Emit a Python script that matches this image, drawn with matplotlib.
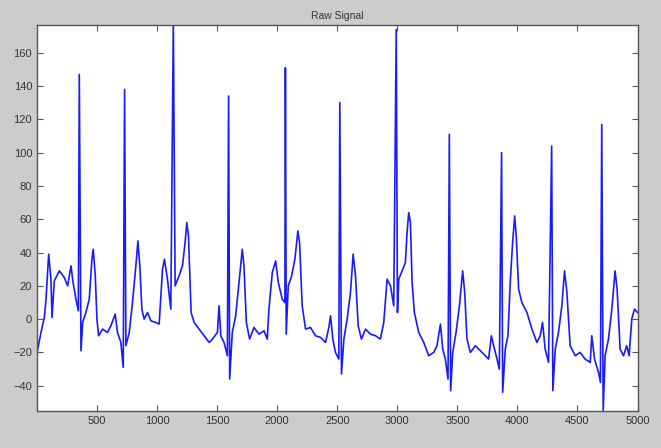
import matplotlib
matplotlib.use("Agg")
import matplotlib.pyplot as plt
import numpy as np

# Baseline (non-spike) samples: sample index, value
base_x = [1, 6, 33, 61, 75, 97, 116, 125, 144, 186, 227, 255, 283, 300, 324, 344,
          366, 380, 407, 435, 457, 468, 485, 499, 513, 546, 587, 615, 651, 670, 698, 718,
          740, 768, 795, 823, 840, 856, 873, 892, 920, 948, 989, 1017, 1045, 1061, 1086, 1114,
          1150, 1183, 1211, 1233, 1247, 1261, 1272, 1283, 1308, 1350, 1391, 1433, 1460, 1502,
          1516, 1530, 1557, 1585, 1604, 1626, 1654, 1682, 1709, 1723, 1743, 1770, 1806, 1848,
          1890, 1917, 1931, 1959, 1987, 2009, 2042, 2064, 2075, 2092, 2120, 2147, 2172, 2186,
          2208, 2236, 2277, 2319, 2361, 2402, 2430, 2444, 2463, 2485, 2513, 2535, 2555, 2582,
          2610, 2632, 2652, 2674, 2701, 2735, 2776, 2818, 2859, 2887, 2915, 2943, 2970, 3001,
          3012, 3040, 3067, 3081, 3095, 3109, 3123, 3142, 3178, 3220, 3261, 3303, 3330, 3359,
          3378, 3400, 3422, 3444, 3461, 3489, 3517, 3544, 3561, 3580, 3608, 3650, 3691, 3733,
          3760, 3783, 3802, 3830, 3849, 3877, 3899, 3921, 3940, 3960, 3977, 3990, 4010, 4037,
          4079, 4121, 4162, 4190, 4209, 4231, 4259, 4295, 4315, 4342, 4370, 4392, 4412, 4439,
          4481, 4522, 4564, 4606, 4619, 4642, 4675, 4691, 4714, 4730, 4758, 4786, 4813, 4830,
          4855, 4883, 4910, 4930, 4952, 4974, 5000]
base_y = [-20, -18, -8, 1, 12, 39, 24, 1, 23, 29, 25, 20, 32, 22, 12, 5,
          -19, -2, 4, 12, 36, 42, 26, 0, -10, -6, -8, -4, 3, -8, -14, -29,
          -16, -8, 10, 32, 47, 32, 6, 0, 4, -1, -2, -3, 30, 36, 24, 6,
          20, 26, 32, 46, 58, 50, 26, 4, -2, -6, -10, -14, -12, -8,
          8, -10, -14, -22, -36, -8, 2, 22, 42, 32, -2, -12, -5, -9,
          -7, -12, 6, 28, 35, 22, 12, 10, -9, 20, 26, 36, 53, 46,
          8, -6, -5, -10, -11, -14, -5, 2, -12, -20, -24, -33, -12, 0,
          16, 39, 26, -4, -12, -6, -9, -10, -12, -2, 24, 20, 8, 4,
          24, 29, 34, 52, 64, 58, 22, 4, -8, -14, -22, -20, -16, -3,
          -18, -24, -36, -43, -20, -8, 8, 29, 16, -12, -20, -16, -19, -22,
          -24, -10, -16, -24, -30, -44, -18, -10, 22, 46, 62, 50, 18, 10,
          4, -6, -14, -10, -2, -18, -26, -43, -18, -8, 8, 29, 16, -16,
          -22, -20, -24, -26, -10, -24, -32, -38, -55, -22, -12, 6, 29, 18,
          -18, -22, -16, -22, 0, 6, 4]

# R-peak spikes: sample index, peak value
spike_x = [352, 729, 1135, 1595, 2068, 2521, 2991, 3433, 3868, 4285, 4702]
spike_y = [147, 138, 178, 134, 151, 130, 174, 111, 100, 104, 117]

x = np.array(base_x + spike_x, dtype=float)
y = np.array(base_y + spike_y, dtype=float)
order = np.argsort(x, kind="stable")
x, y = x[order], y[order]

x_ticks = [500, 1000, 1500, 2000, 2500, 3000, 3500, 4000, 4500, 5000]
y_ticks = [-40, -20, 0, 20, 40, 60, 80, 100, 120, 140, 160]

fig = plt.figure(figsize=(6.61, 4.48), dpi=100, facecolor="#cccccc")
ax = fig.add_axes([0.056, 0.0833, 0.9085, 0.862])
ax.plot(x, y, color="#1a1aff", lw=1.2)
ax.set_xlim(0, 5000)
ax.set_ylim(-55, 177)
ax.set_xticks(x_ticks)
ax.set_yticks(y_ticks)
ax.tick_params(direction="in", length=4, width=0.8, colors="#555555",
               labelcolor="#333333", labelsize=8, top=True, right=True,
               labeltop=False, labelright=False)
for lab in ax.get_xticklabels() + ax.get_yticklabels():
    lab.set_family("Liberation Sans")
for s in ax.spines.values():
    s.set_color("#555555")
    s.set_linewidth(1.0)
ax.set_title("Raw Signal", fontsize=7.5, family="Liberation Sans", color="#333333", pad=4)
fig.savefig("out.png", dpi=100, facecolor=fig.get_facecolor())
